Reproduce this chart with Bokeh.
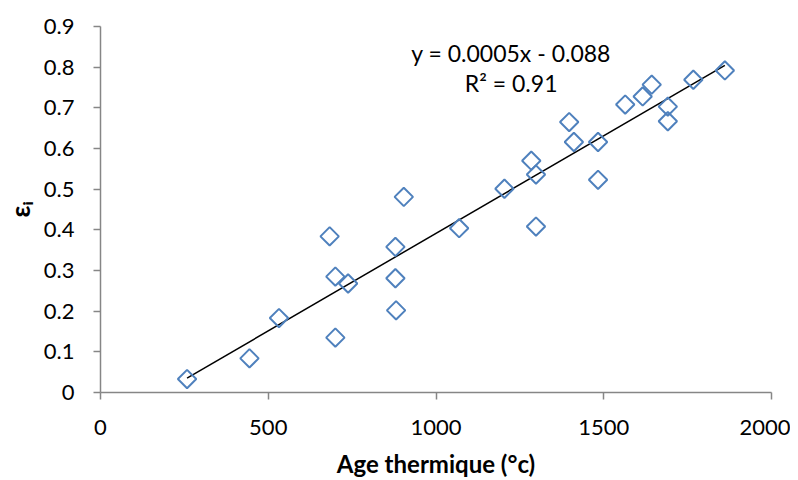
import numpy as np
from bokeh.plotting import figure
from bokeh.models import Range1d, Label, FixedTicker, ColumnDataSource
from bokeh.embed import file_html
from bokeh.resources import INLINE

# Data
age = [258, 444, 532, 683, 700, 738, 700, 879, 879, 881, 904, 1069, 1204, 1284,
       1298, 1298, 1397, 1411, 1483, 1483, 1564, 1616, 1643, 1691, 1691, 1767, 1861]
eps = [0.033, 0.084, 0.183, 0.384, 0.285, 0.268, 0.135, 0.358, 0.281, 0.202, 0.481,
       0.404, 0.501, 0.570, 0.536, 0.408, 0.665, 0.616, 0.616, 0.523, 0.708, 0.728,
       0.757, 0.703, 0.667, 0.769, 0.792]
x_ticks = [0, 500, 1000, 1500, 2000]
y_ticks = [0, 0.1, 0.2, 0.3, 0.4, 0.5, 0.6, 0.7, 0.8, 0.9]
eq_text = "y = 0.0005x - 0.088"
r2_text = "R² = 0.91"

FONT = "Lato"
AXIS_GREY = "#868686"
BLUE = "#4F81BD"

p = figure(width=790, height=480, output_backend="svg", toolbar_location=None,
           x_range=Range1d(0, 2000), y_range=Range1d(0, 0.9),
           min_border_left=96, min_border_right=19, min_border_top=26, min_border_bottom=88)
p.outline_line_color = None
p.grid.visible = False
p.background_fill_color = "white"

# Trend line (least squares fit of the data)
slope, intercept = np.polyfit(age, eps, 1)
xl = [min(age), max(age)]
yl = [slope * v + intercept for v in xl]
p.line(xl, yl, line_color="black", line_width=1.5)

src = ColumnDataSource(dict(x=age, y=eps))
p.scatter("x", "y", source=src, marker="square", size=13, angle=np.pi / 4,
          fill_color=None, line_color=BLUE, line_width=2)

for ax in (p.xaxis[0], p.yaxis[0]):
    ax.axis_line_color = AXIS_GREY
    ax.axis_line_width = 1.5
    ax.major_tick_line_color = AXIS_GREY
    ax.major_tick_line_width = 1.5
    ax.major_tick_out = 7
    ax.major_tick_in = 0
    ax.minor_tick_line_color = None
    ax.major_label_text_font = FONT
    ax.major_label_text_font_size = "22px"
    ax.major_label_text_color = "black"
    ax.axis_label_text_font = FONT
    ax.axis_label_text_font_style = "bold"
    ax.axis_label_text_color = "black"

p.xaxis.ticker = FixedTicker(ticks=x_ticks)
p.yaxis.ticker = FixedTicker(ticks=y_ticks)
p.xaxis.major_label_overrides = {t: str(t) for t in x_ticks}
p.yaxis.major_label_overrides = {t: ("0" if t == 0 else f"{t:.1f}") for t in y_ticks}
p.xaxis.major_label_standoff = 20
p.yaxis.major_label_standoff = 19

p.xaxis.axis_label = "Age thermique (°c)"
p.xaxis.axis_label_text_font_size = "24px"
p.xaxis.axis_label_standoff = 11
p.yaxis.axis_label = "εᵢ"
p.yaxis.axis_label_text_font_size = "26px"
p.yaxis.axis_label_standoff = 5

p.add_layout(Label(x=1224, y=0.836, text=eq_text, text_align="center",
                   text_baseline="middle", text_font=FONT,
                   text_font_size="23px", text_color="black"))
p.add_layout(Label(x=1224, y=0.760, text=r2_text, text_align="center",
                   text_baseline="middle", text_font=FONT,
                   text_font_size="23px", text_color="black"))

open("out.html", "w").write(file_html(p, INLINE))
